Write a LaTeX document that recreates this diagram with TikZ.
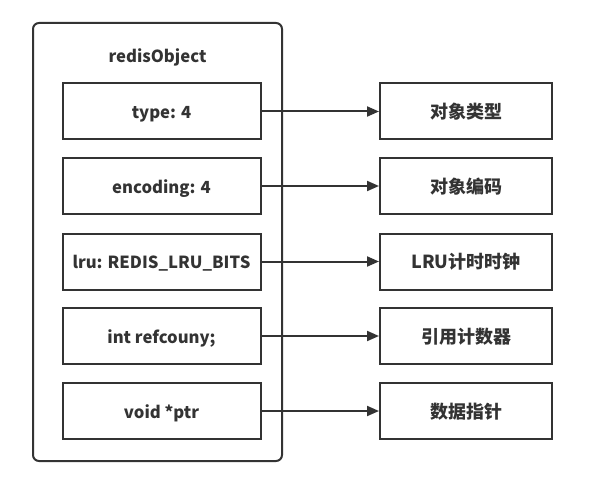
\documentclass[tikz,border=0pt]{standalone}
\usepackage{fontspec}
\setmainfont{Noto Sans CJK SC}
\usetikzlibrary{arrows.meta}
\definecolor{linegray}{HTML}{333333}

\begin{document}
\begin{tikzpicture}[x=0.75pt, y=-0.75pt,
  every node/.style={font=\fontsize{12.5}{14}\selectfont\bfseries, text=linegray, text height=10.8pt, text depth=0pt},
  field/.style={draw=linegray, line width=1.5pt, minimum width=148.5pt, minimum height=42pt, inner sep=0pt},
  meaning/.style={draw=linegray, line width=1.5pt, minimum width=129pt, minimum height=42pt, inner sep=0pt, font=\fontsize{13.5}{16}\selectfont\bfseries},
  link/.style={draw=linegray, line width=1.5pt, -{Triangle[length=9pt, width=7.5pt]}}]
  \useasboundingbox (0,0) rectangle (609,495);
  % the object box
  \draw[linegray, line width=1.5pt, rounded corners=4.5pt] (33,23) rectangle (282,461);
  \node (title) at (157.5,55.5) {redisObject};
  % fields
  \node[field] (type) at (161.5,111.5) {type: 4};
  \node[field] (enc) at (161.5,186) {encoding: 4};
  \node[field] (lru) at (161.5,261.5) {lru: REDIS\_LRU\_BITS};
  \node[field] (refc) at (161.5,336) {int refcouny;};
  \node[field] (ptr) at (161.5,411) {void *ptr};
  % what each field means
  \node[meaning] (typed) at (466,111.5) {对象类型};
  \node[meaning] (encd) at (466,186) {对象编码};
  \node[meaning] (lrud) at (466,261.5) {LRU计时时钟};
  \node[meaning] (refcd) at (466,336) {引用计数器};
  \node[meaning] (ptrd) at (466,411) {数据指针};
  \draw[link] (type) -- (typed);
  \draw[link] (enc) -- (encd);
  \draw[link] (lru) -- (lrud);
  \draw[link] (refc) -- (refcd);
  \draw[link] (ptr) -- (ptrd);
\end{tikzpicture}
\end{document}
